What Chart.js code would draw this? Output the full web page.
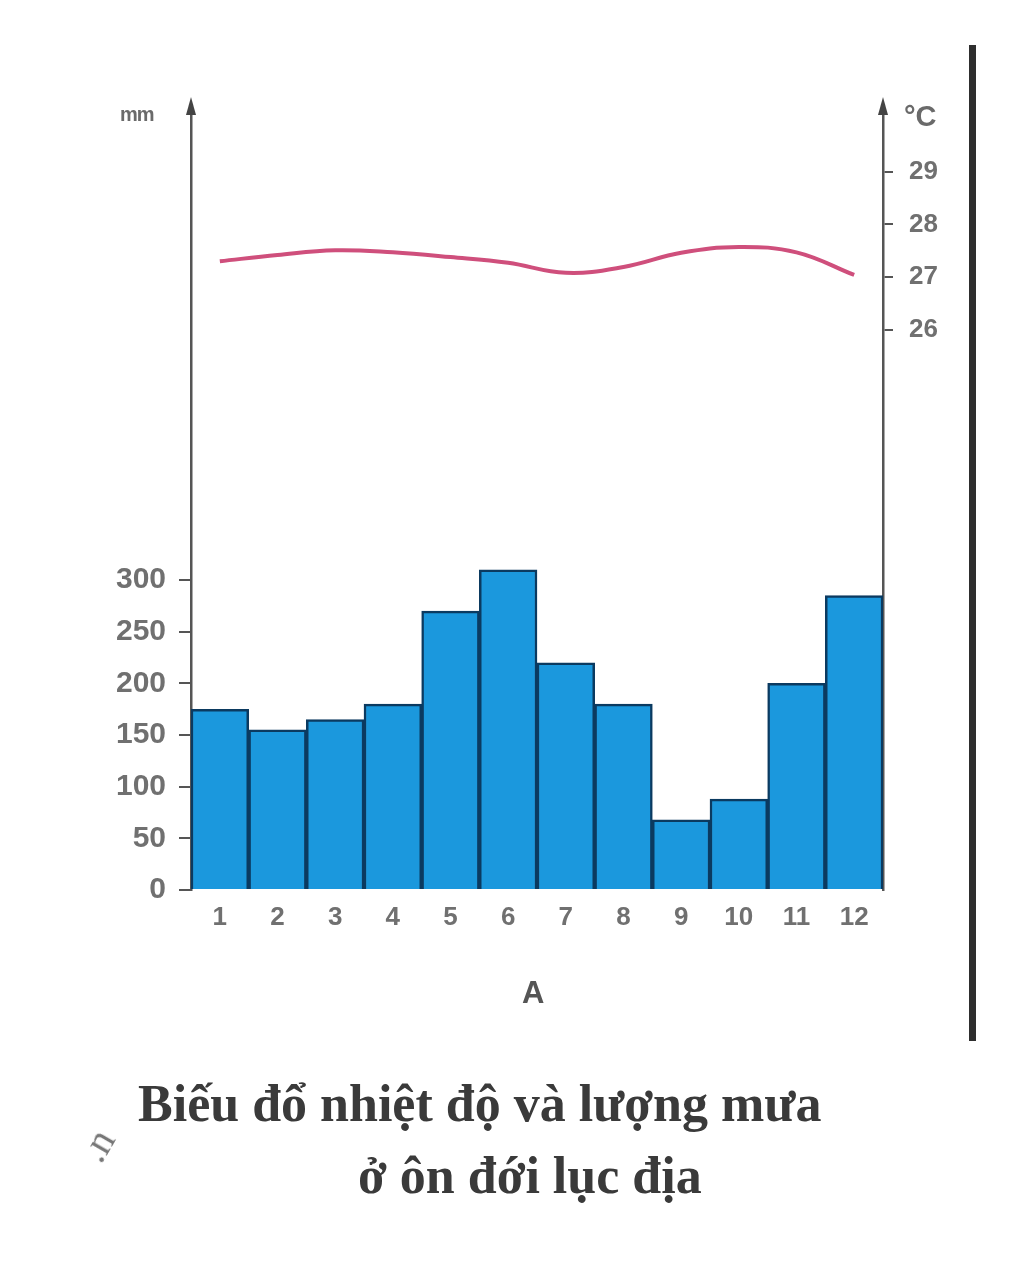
<!DOCTYPE html>
<html>
<head>
<meta charset="utf-8">
<script src="https://cdn.jsdelivr.net/npm/chart.js@4.4.1/dist/chart.umd.min.js"></script>
<style>
  html, body { margin: 0; padding: 0; background: #fff; }
  #wrap { position: relative; width: 1024px; height: 1262px; overflow: hidden; background: #fff; }
  #c { position: absolute; left: 0; top: 0; }
  .txt { position: absolute; white-space: nowrap; }
</style>
</head>
<body>
<div id="wrap">
  <canvas id="c" width="1024" height="1262"></canvas>
  <div class="txt" style="left:120px;top:103px;font:bold 20px 'Liberation Sans',Arial,sans-serif;color:#6a6a6a;letter-spacing:-1px;">mm</div>
  <div class="txt" style="left:904px;top:100px;font:bold 29px 'Liberation Sans',Arial,sans-serif;color:#6a6a6a;">°C</div>
  <div class="txt" style="left:522px;top:975px;font:bold 31px 'Liberation Sans',Arial,sans-serif;color:#555;">A</div>
  <div style="position:absolute;left:969px;top:45px;width:7px;height:996px;background:#2e2e2e;"></div>
  <div class="txt" style="left:138px;top:1074px;font:bold 52px 'Liberation Serif','Times New Roman',serif;color:#3a3a3a;">Biếu đổ nhiệt độ và lượng mưa</div>
  <div class="txt" style="left:358px;top:1146px;font:bold 52px 'Liberation Serif','Times New Roman',serif;color:#3a3a3a;">ở ôn đới lục địa</div>
  <div class="txt" style="left:82px;top:1122px;font:40px 'Liberation Serif',serif;color:#777;transform:rotate(-60deg);">.n</div>
</div>
<script>
// ---- data ----
const months = ['1','2','3','4','5','6','7','8','9','10','11','12'];
const rainfall = [175, 155, 165, 180, 270, 310, 220, 180, 68, 88, 200, 285];
const temperature = [27.30, 27.42, 27.51, 27.47, 27.38, 27.27, 27.08, 27.19, 27.46, 27.57, 27.47, 27.04];
const rainTicks = [0, 50, 100, 150, 200, 250, 300];
const tempTicks = [26, 27, 28, 29];

const axisColor = '#555';
const tickColor = '#707070';
const fam = "'Liberation Sans', Arial, sans-serif";

const arrowPlugin = {
  id: 'arrows',
  afterDraw(chart) {
    const ctx = chart.ctx;
    const a = chart.chartArea;
    ctx.save();
    ctx.fillStyle = '#444';
    [a.left, a.right].forEach(x => {
      ctx.beginPath();
      ctx.moveTo(x, a.top - 8);
      ctx.lineTo(x - 5, a.top + 10);
      ctx.lineTo(x + 5, a.top + 10);
      ctx.closePath();
      ctx.fill();
    });
    ctx.restore();
  }
};

new Chart(document.getElementById('c'), {
  data: {
    labels: months,
    datasets: [
      {
        type: 'line',
        data: temperature,
        yAxisID: 'y1',
        borderColor: '#cf4f7c',
        borderWidth: 4,
        tension: 0.4,
        pointRadius: 0,
        fill: false,
        order: 0
      },
      {
        type: 'bar',
        data: rainfall,
        yAxisID: 'y',
        backgroundColor: '#1b98dd',
        borderColor: '#0b3a60',
        borderWidth: 2.5,
        barPercentage: 1,
        categoryPercentage: 1,
        order: 1
      }
    ]
  },
  options: {
    responsive: false,
    animation: false,
    layout: { padding: { top: 105, left: 0, right: 0, bottom: 0 } },
    plugins: { legend: { display: false }, tooltip: { enabled: false } },
    scales: {
      x: {
        offset: true,
        grid: { display: true, drawOnChartArea: false, drawTicks: false, color: 'rgba(0,0,0,0)' },
        border: { display: false },
        ticks: { font: { family: fam, size: 26, weight: 'bold' }, color: tickColor, padding: 12, maxRotation: 0, autoSkip: false },
        afterFit(s) { s.height = 1262 - 890; }
      },
      y: {
        position: 'left',
        min: 0,
        max: 760,
        grid: { display: true, drawOnChartArea: false, drawTicks: true, tickLength: 12, color: axisColor, lineWidth: 2 },
        border: { display: true, color: axisColor, width: 2.5 },
        ticks: { font: { family: fam, size: 30, weight: 'bold' }, color: tickColor, padding: 13 },
        afterBuildTicks(s) { s.ticks = rainTicks.map(v => ({ value: v })); },
        afterFit(s) { s.width = 191; }
      },
      y1: {
        position: 'right',
        min: 15.35,
        max: 30.27,
        grid: { display: true, drawOnChartArea: false, drawTicks: true, tickLength: 10, color: axisColor, lineWidth: 2 },
        border: { display: true, color: axisColor, width: 2.5 },
        ticks: { font: { family: fam, size: 26, weight: 'bold' }, color: tickColor, padding: 16 },
        afterBuildTicks(s) { s.ticks = tempTicks.map(v => ({ value: v })); },
        afterFit(s) { s.width = 1024 - 883; }
      }
    }
  },
  plugins: [arrowPlugin]
});
</script>
</body>
</html>
